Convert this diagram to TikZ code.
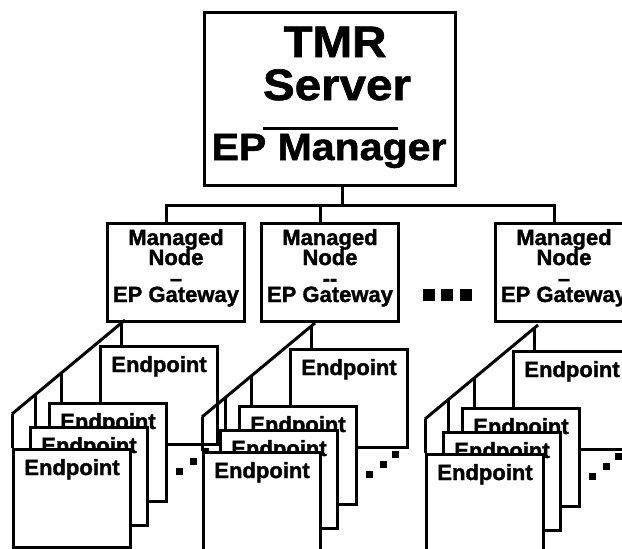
\documentclass[tikz,border=0pt]{standalone}
\usepackage{fontspec}
\setmainfont{Liberation Sans}[BoldFeatures={FakeBold=1.5}]
\newfontfamily\bigfont{Liberation Sans}[FakeStretch=1.08, BoldFeatures={FakeBold=1.5}]
\usetikzlibrary{calc}

% one fan of endpoints below a managed node: name, fan x, fan y
\newcommand{\epgroup}[3]{%
  \coordinate (#1top) at (#2,#3);
  \coordinate (#1end) at ($(#1top)+(-113,94)$);
  % endpoint boxes, back to front
  \node[epbox] (#1back) at ($(#1top)+(-26,25)$) {};
  \node[eptext] (#1backtxt) at ($(#1back.north)+(0,27)$) {Endpoint};
  \node[epbox] (#1third) at ($(#1top)+(-77,82)$) {};
  \node[eptext] (#1thirdtxt) at ($(#1third.north)+(0,27)$) {Endpoint};
  \node[epbox] (#1mid) at ($(#1top)+(-96,106)$) {};
  \node[eptext] (#1midtxt) at ($(#1mid.north)+(0,27)$) {Endpoint};
  \node[epbox] (#1front) at ($(#1top)+(-113,128)$) {};
  \node[eptext] (#1fronttxt) at ($(#1front.north)+(0,27)$) {Endpoint};
  % fan and stems
  \draw[wire] (#1top) -- (#1end);
  \coordinate (#1s1) at ($(#1top)!0.035!(#1end)$);
  \coordinate (#1s2) at ($(#1top)!0.566!(#1end)$);
  \coordinate (#1s3) at ($(#1top)!0.788!(#1end)$);
  \draw[wire] (#1s1) -- (#1s1 |- #1back.north);
  \draw[wire] (#1s2) -- (#1s2 |- #1third.north);
  \draw[wire] (#1s3) -- (#1s3 |- #1mid.north);
  \draw[wire] (#1end) -- (#1end |- #1front.north);
  % more endpoints
  \foreach \dx/\dy in {54/151, 68/141, 80/131}
    \fill ($(#1top)+(\dx,\dy)+(-3.5,-3.5)$) rectangle ++(7,7);
}

\begin{document}
\begin{tikzpicture}[
    x=1pt, y=-1pt,
    wire/.style={line width=3pt},
    srvbox/.style={rectangle, draw, line width=3pt, minimum width=251pt, minimum height=173pt, inner sep=0pt},
    mnbox/.style={rectangle, draw, line width=3pt, minimum width=137pt, minimum height=98pt, inner sep=0pt},
    epbox/.style={rectangle, draw, fill=white, line width=3pt, minimum width=117pt, minimum height=98pt,
                  anchor=north west, inner sep=0pt},
    srvtext/.style={font=\bigfont\fontsize{44}{48}\selectfont\bfseries, anchor=base, inner sep=0pt},
    mgrtext/.style={font=\bigfont\fontsize{38}{42}\selectfont\bfseries, anchor=base, inner sep=0pt},
    mntext/.style={font=\fontsize{22}{24}\selectfont\bfseries, anchor=base, inner sep=0pt},
    eptext/.style={font=\fontsize{22}{24}\selectfont\bfseries, anchor=base, inner sep=0pt}
]
\useasboundingbox (0,0) rectangle (622,549);

% TMR server
\node[srvbox] (server) at (329.5,98.5) {};
\node[srvtext] (tmr) at (335,57) {TMR};
\node[srvtext] (srvname) at (337,100) {Server};
\draw[line width=3pt] (263,128) -- (398,128);
\node[mgrtext] (epmgr) at (329,160) {EP Manager};

% Managed nodes
\node[mnbox] (mn1) at (176,272.5) {};
\node[mntext] at (176,245) {Managed};
\node[mntext] at (176,265) {Node};
\node[mntext] at (176,286) {--};
\node[mntext] at (176,302) {EP Gateway};

\node[mnbox] (mn2) at (330,272.5) {};
\node[mntext] at (330,245) {Managed};
\node[mntext] at (330,265) {Node};
\node[mntext] at (330,286) {-{}-};
\node[mntext] at (330,302) {EP Gateway};

\node[mnbox] (mn3) at (564,272.5) {};
\node[mntext] at (564,245) {Managed};
\node[mntext] at (564,265) {Node};
\node[mntext] at (564,286) {--};
\node[mntext] at (564,302) {EP Gateway};

% more managed nodes
\foreach \x in {423,441,460}
  \fill (\x,289) rectangle ++(12,12);

% Bus
\coordinate (bus) at (342,205);
\coordinate (mn1drop) at ([xshift=-10pt]mn1.north);
\coordinate (mn2drop) at ([xshift=-10pt]mn2.north);
\coordinate (mn3drop) at ([xshift=-10pt]mn3.north);
\draw[wire] ([xshift=12.5pt]server.south) -- (bus);
\draw[wire] (mn1drop) |- (bus);
\draw[wire] (mn2drop) -- (mn2drop |- bus);
\draw[wire] (mn3drop) |- (bus);

% Endpoints
\epgroup{ga}{125}{320}
\epgroup{gb}{315}{323}
\epgroup{gc}{538}{325}

\end{tikzpicture}
\end{document}
